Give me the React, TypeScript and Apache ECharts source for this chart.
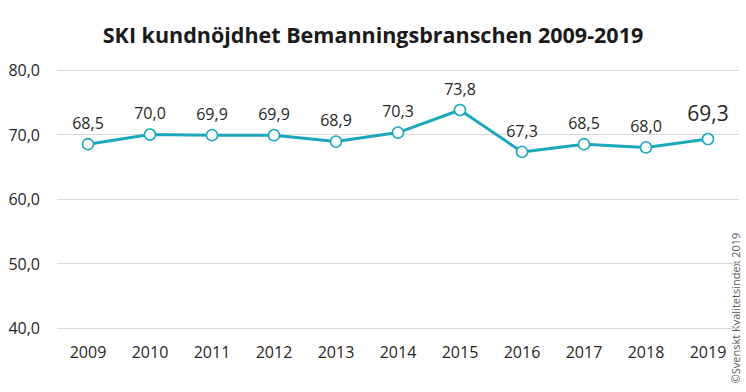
import React, { useEffect, useRef } from "react";
import * as echarts from "echarts";

const years = ["2009", "2010", "2011", "2012", "2013", "2014", "2015", "2016", "2017", "2018", "2019"];
const values = [68.5, 70.0, 69.9, 69.9, 68.9, 70.3, 73.8, 67.3, 68.5, 68.0, 69.3];
const titleText = "SKI kundnöjdhet Bemanningsbranschen 2009-2019";
const copyright = "©Svenskt Kvalitetsindex 2019";

const fmt = (v: number) => v.toFixed(1).replace(".", ",");

export default function App() {
  const ref = useRef<HTMLDivElement>(null);
  useEffect(() => {
    const chart = echarts.init(ref.current!, null, { renderer: "svg" });
    const font = "'Open Sans', 'Noto Sans', sans-serif";
    chart.setOption({
      animation: false,
      backgroundColor: "#ffffff",
      title: {
        text: titleText,
        left: "center",
        top: 18,
        textStyle: { fontFamily: font, fontSize: 21.5, fontWeight: "bold", color: "#1a1a1a" },
      },
      grid: { left: 57, right: 7, top: 70, bottom: 64, containLabel: false },
      xAxis: {
        type: "category",
        data: years,
        boundaryGap: true,
        axisLine: { show: false },
        axisTick: { show: false },
        axisLabel: { fontFamily: font, fontSize: 16, color: "#262626", margin: 16 },
      },
      yAxis: {
        type: "value",
        min: 40,
        max: 80,
        interval: 10,
        axisLine: { show: false },
        axisTick: { show: false },
        splitLine: { lineStyle: { color: "#d9d9d9", width: 1 } },
        axisLabel: {
          fontFamily: font,
          fontSize: 16,
          color: "#262626",
          margin: 17,
          formatter: (v: number) => fmt(v),
        },
      },
      series: [
        {
          type: "line",
          data: values.map((v, i) =>
            i === values.length - 1
              ? { value: v, label: { fontSize: 21, distance: 9 } }
              : v
          ),
          symbol: "circle",
          symbolSize: 11,
          lineStyle: { color: "#1ba8ba", width: 3 },
          itemStyle: { color: "#ffffff", borderColor: "#1ba8ba", borderWidth: 1.5 },
          label: {
            show: true,
            position: "top",
            distance: 7,
            fontFamily: font,
            fontSize: 16,
            color: "#262626",
            formatter: (p: any) => fmt(p.value),
          },
        },
      ],
      graphic: [
        {
          type: "text",
          x: 735,
          y: 308,
          rotation: Math.PI / 2,
          style: {
            text: copyright,
            fontFamily: font,
            fontSize: 11,
            fill: "#595959",
            textAlign: "center",
            textVerticalAlign: "middle",
          },
        },
      ],
    });
    return () => chart.dispose();
  }, []);
  return <div ref={ref} style={{ width: 746, height: 392, position: "absolute", left: 0, top: 0 }} />;
}
